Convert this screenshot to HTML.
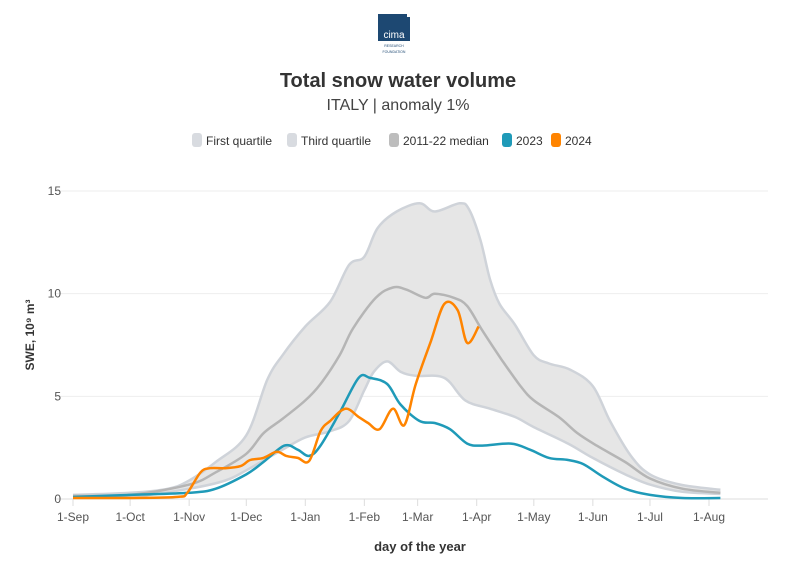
<!DOCTYPE html>
<html><head><meta charset="utf-8"><style>
body{margin:0;background:#fff;font-family:"Liberation Sans",sans-serif;}
svg text{font-family:"Liberation Sans",sans-serif;}
</style></head><body>
<svg id="chart" width="796" height="575">
<g>
<rect x="378" y="14" width="32" height="27" fill="#1d4872"/>
<rect x="407" y="14" width="3" height="3" fill="#fff"/>
<text x="394" y="38" font-size="10" fill="#fff" text-anchor="middle" font-family="Liberation Serif">cima</text>
<text x="394" y="47" font-size="3.5" fill="#1d4872" text-anchor="middle">RESEARCH</text>
<text x="394" y="53" font-size="3.5" fill="#1d4872" text-anchor="middle">FOUNDATION</text>
</g>
<text x="398" y="87" font-size="20" font-weight="bold" fill="#333" text-anchor="middle">Total snow water volume</text>
<text x="398" y="110" font-size="16" fill="#444" text-anchor="middle">ITALY | anomaly 1%</text>
<g id="legend" font-size="12" fill="#333"></g>
<g id="grid"></g>
<g id="series"></g>
<text transform="translate(34,335) rotate(-90)" font-size="12" font-weight="bold" fill="#333" text-anchor="middle">SWE, 10⁹ m³</text>
<text x="420" y="551" font-size="13" font-weight="bold" fill="#333" text-anchor="middle">day of the year</text>
</svg>
<script>
const xTickLabels=["1-Sep","1-Oct","1-Nov","1-Dec","1-Jan","1-Feb","1-Mar","1-Apr","1-May","1-Jun","1-Jul","1-Aug"];
const xTickDays=[0,30,61,91,122,153,181,212,242,273,303,334];
const yTicks=[0,5,10,15];
const q3Days=[0,30,50,61,75,91,102,110,122,135,145,153,160,170,182,190,203,208,214,219,224,232,242,250,261,273,282,293,303,319,340];
const q3Vals=[0.2,0.3,0.5,0.9,1.8,3.1,5.8,7.0,8.4,9.6,11.4,11.8,13.2,14.0,14.4,14.0,14.4,14.1,12.6,10.7,9.5,8.5,7.0,6.6,6.3,5.5,3.8,2.1,1.2,0.7,0.45];
const q1Days=[0,30,61,80,91,110,122,135,145,153,158,165,172,180,195,206,219,232,242,260,273,290,303,320,340];
const q1Vals=[0.1,0.1,0.5,0.9,1.4,2.4,3.0,3.3,3.8,5.3,6.2,6.7,6.2,6.0,5.9,4.8,4.4,4.0,3.5,2.7,2.0,1.2,0.7,0.35,0.25];
const medDays=[0,30,61,75,91,100,110,122,130,140,147,159,168,175,185,190,200,207,215,225,235,242,255,265,275,290,303,320,340];
const medVals=[0.15,0.2,0.7,1.3,2.2,3.2,3.9,4.8,5.6,7.0,8.3,9.8,10.3,10.2,9.8,10.0,9.8,9.4,8.2,6.8,5.5,4.8,4.0,3.2,2.6,1.8,1.0,0.5,0.3];
const y23Days=[0,30,61,75,91,100,111,118,124,130,140,150,156,165,172,182,190,198,207,215,230,240,250,260,268,278,290,303,320,340];
const y23Vals=[0.1,0.2,0.3,0.5,1.2,1.8,2.6,2.4,2.1,2.6,4.2,5.9,5.9,5.6,4.6,3.8,3.7,3.4,2.7,2.6,2.7,2.4,2.0,1.9,1.7,1.1,0.5,0.2,0.05,0.05];
const y24Days=[0,30,55,60,67,72,80,88,93,100,107,112,118,124,130,135,143,150,155,161,168,174,180,188,195,202,207,213];
const y24Vals=[0.05,0.05,0.1,0.3,1.3,1.5,1.5,1.6,1.9,2.0,2.3,2.1,2.0,1.85,3.3,3.8,4.4,4.0,3.7,3.4,4.4,3.6,5.6,7.7,9.5,9.2,7.6,8.4];

const X=d=>73+d*636/334, Y=v=>499-v*308/15;
const NS='http://www.w3.org/2000/svg';
function mk(t,a,p){const e=document.createElementNS(NS,t);for(const k in a)e.setAttribute(k,a[k]);p.appendChild(e);return e;}
function pts(ds,vs){return ds.map((d,i)=>[X(d),Y(vs[i])]);}
function smooth(p){let s='';for(let i=0;i<p.length-1;i++){const p0=p[Math.max(0,i-1)],p1=p[i],p2=p[i+1],p3=p[Math.min(p.length-1,i+2)];
const c1=[p1[0]+(p2[0]-p0[0])/6,p1[1]+(p2[1]-p0[1])/6],c2=[p2[0]-(p3[0]-p1[0])/6,p2[1]-(p3[1]-p1[1])/6];
s+=` C${c1[0].toFixed(1)},${c1[1].toFixed(1)} ${c2[0].toFixed(1)},${c2[1].toFixed(1)} ${p2[0].toFixed(1)},${p2[1].toFixed(1)}`;}return s;}
const grid=document.getElementById('grid'),ser=document.getElementById('series'),leg=document.getElementById('legend');
yTicks.forEach(v=>{
 const l=mk('line',{x1:55,x2:768,y1:Y(v),y2:Y(v),stroke:v===0?'#ddd':'#eee','stroke-width':1},grid);
 
 
 const t=mk('text',{x:61,y:Y(v)+4,'font-size':12,fill:'#555','text-anchor':'end'},grid);t.textContent=v;
 
 
});
xTickDays.forEach((d,i)=>{
 const l=mk('line',{x1:X(d),x2:X(d),y1:499,y2:506,stroke:'#ddd'},grid);
 
 
 const t=mk('text',{x:X(d),y:521,'font-size':12,fill:'#555','text-anchor':'middle'},grid);t.textContent=xTickLabels[i];
 
 
});
const up=pts(q3Days,q3Vals),lo=pts(q1Days,q1Vals).reverse();
const band=mk('path',{d:`M${up[0][0]},${up[0][1]}`+smooth(up)+` L${lo[0][0]},${lo[0][1]}`+smooth(lo)+'Z',fill:'#e6e6e6'},ser);


function line(ds,vs,c,w,name){const p=pts(ds,vs);const e=mk('path',{d:`M${p[0][0]},${p[0][1]}`+smooth(p),fill:'none',stroke:c,'stroke-width':w,'stroke-linejoin':'round'},ser);
 
 }
line(q1Days,q1Vals,'#cfd3d9',2.5,'first-quartile-line');
line(q3Days,q3Vals,'#cfd3d9',2.5,'third-quartile-line');
line(medDays,medVals,'#b5b5b5',2.5,'median-line');
line(y23Days,y23Vals,'#1f9ab8',2.5,'line-2023');
line(y24Days,y24Vals,'#ff8400',2.5,'line-2024');
const items=[['First quartile','#d8dbe0',192],['Third quartile','#d8dbe0',287],['2011-22 median','#bdbdbd',389],['2023','#1f9ab8',502],['2024','#ff8400',551]];
items.forEach(it=>{
 const g=mk('g',{},leg);
 
 
 mk('rect',{x:it[2],y:133,width:10,height:14,rx:3,fill:it[1]},g);
 const t=mk('text',{x:it[2]+14,y:145,'font-size':12,fill:'#333'},g);t.textContent=it[0];
});
</script>
</body></html>
